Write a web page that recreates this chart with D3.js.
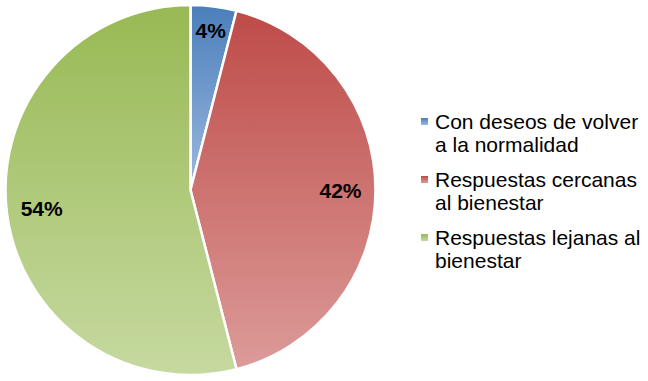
<!DOCTYPE html>
<html>
<head>
<meta charset="utf-8">
<script src="https://cdn.jsdelivr.net/npm/d3@7"></script>
<style>
  body { margin: 0; background: #fff; }
  svg { display: block; font-family: "Liberation Sans", Arial, sans-serif; }
</style>
</head>
<body>
<div id="chart"></div>
<script>
const categories = [
  "Con deseos de volver a la normalidad",
  "Respuestas cercanas al bienestar",
  "Respuestas lejanas al bienestar",
];
const values = [4, 42, 54];
const legendLines = [
  ["Con deseos de volver", "a la normalidad"],
  ["Respuestas cercanas", "al bienestar"],
  ["Respuestas lejanas al", "bienestar"],
];
const colorsTop = ["#4a7ebb", "#be4b48", "#98b954"];
const colorsBottom = ["#9db9df", "#dc9b99", "#c6d9a0"];

const width = 648;
const height = 381;
const cx = 190.5;
const cy = 190;
const radius = 185;

const svg = d3
  .select("#chart")
  .append("svg")
  .attr("width", width)
  .attr("height", height)
  .attr("viewBox", [0, 0, width, height]);

const defs = svg.append("defs");
categories.forEach((_, i) => {
  const grad = defs
    .append("linearGradient")
    .attr("id", `grad-${i}`)
    .attr("x1", 0).attr("y1", 0)
    .attr("x2", 0).attr("y2", 1);
  grad.append("stop").attr("offset", "0%").attr("stop-color", colorsTop[i]);
  grad.append("stop").attr("offset", "100%").attr("stop-color", colorsBottom[i]);
});

const pie = d3.pie().sort(null).value((d) => d);
const arcs = pie(values);

const arc = d3.arc().innerRadius(0).outerRadius(radius);

const chart = svg.append("g").attr("transform", `translate(${cx},${cy})`);

chart
  .selectAll("path")
  .data(arcs)
  .join("path")
  .attr("d", arc)
  .attr("fill", (d, i) => `url(#grad-${i})`)
  .attr("stroke", "#fff")
  .attr("stroke-width", 2.5)
  .attr("stroke-linejoin", "round");

chart
  .selectAll("text.label")
  .data(arcs)
  .join("text")
  .attr("class", "label")
  .attr("transform", (d) => {
    const r = d.endAngle - d.startAngle < 0.5 ? 161 : 150;
    const a = (d.startAngle + d.endAngle) / 2;
    return `translate(${Math.sin(a) * r},${-Math.cos(a) * r})`;
  })
  .attr("text-anchor", "middle")
  .attr("dy", "0.36em")
  .style("font-size", "21px")
  .style("font-weight", "bold")
  .attr("fill", "#000")
  .text((d) => `${d.data}%`);

const legend = svg.append("g").attr("transform", "translate(421,0)");
const itemTop = [129, 187, 245];

legendLines.forEach((lines, i) => {
  const g = legend.append("g").attr("transform", `translate(0,${itemTop[i]})`);
  g.append("rect")
    .attr("x", 0)
    .attr("y", -11)
    .attr("width", 7)
    .attr("height", 7)
    .attr("fill", `url(#grad-${i})`);
  lines.forEach((line, j) => {
    g.append("text")
      .attr("x", 14)
      .attr("y", j * 23)
      .style("font-size", "21px")
      .attr("fill", "#000")
      .text(line);
  });
});
</script>
</body>
</html>
